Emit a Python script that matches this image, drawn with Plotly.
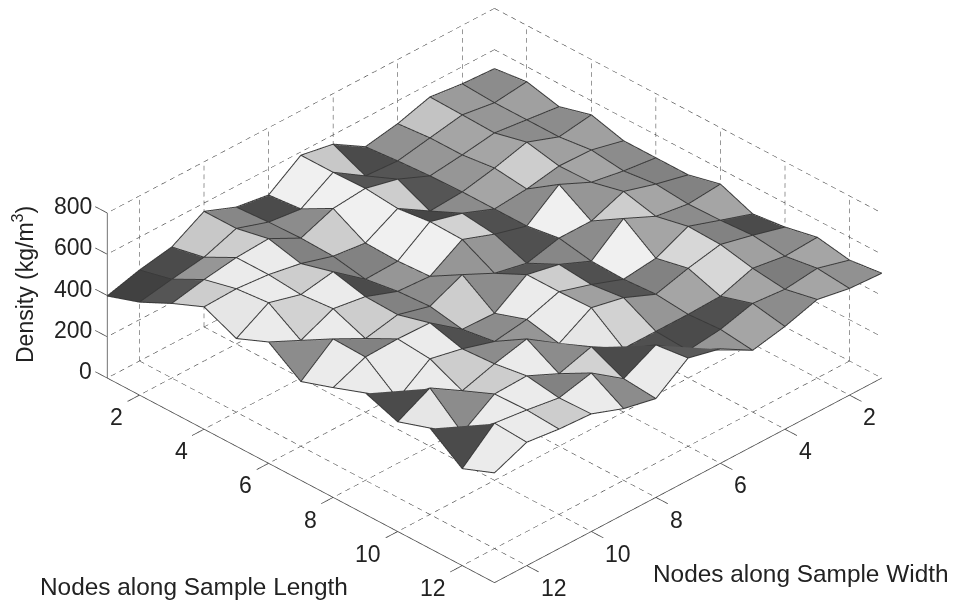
import plotly.graph_objects as go

# Node densities: rows = Length node 1..13, columns = Width node 1..13
density = [
 [505,514,533,486,457,552,581,471,495,557,467,438,395],
 [524,505,529,500,471,481,581,486,505,557,500,476,448],
 [486,505,524,500,481,548,586,571,510,590,581,557,524],
 [529,505,562,519,486,476,571,486,505,552,581,595,590],
 [486,524,529,500,486,548,590,481,476,595,567,610,519],
 [486,505,533,605,486,529,586,490,500,557,581,510,585],
 [486,524,571,510,510,471,505,581,510,552,519,600,476],
 [524,510,533,605,481,548,581,476,481,595,600,595,529],
 [462,514,567,495,476,533,581,529,505,552,586,476,586],
 [481,524,562,529,486,552,586,495,600,562,514,610,529],
 [514,505,529,476,471,471,471,562,514,586,581,476,581],
 [486,529,510,524,481,462,571,490,600,562,586,605,467],
 [505,514,543,495,462,552,590,476,510,567,576,595,529],
]
# Facet grey level per cell
shade = [
 [140,155,195,145, 75,200,240, 75,135,200, 75, 65],
 [160,150,165,150, 85, 85,240,140,130,205,150, 85],
 [140,140,165,150, 85,205,240,205,130,235,235,205],
 [160,160,205,165,140, 70,240,130,130,205,235,230],
 [140,165,150,140, 80,210,240,150, 75,235,210,235],
 [130,140,150,240, 80,150,150,140,130,205,235,140],
 [130,165,205,140,135, 85,140,205,130,205,130,235],
 [165,140,165,240, 80,205,235,140, 80,235,235,235],
 [ 75,130,215,130, 85,160,235,150,140,205,235, 75],
 [140,160,215,165,150,210,230,140,235,205,140,230],
 [165,125,165, 80, 75, 80, 75,210,130,235,235, 75],
 [145,165,140,165,150, 90,235,140,235,205,235,235],
]
nodes = list(range(1, 14))
node_ticks = [2, 4, 6, 8, 10, 12]
density_ticks = [0, 200, 400, 600, 800]

n = len(nodes)
lo, hi = nodes[0], nodes[-1]
zmax = density_ticks[-1]
pad = 0.4
tick = 0.37
vx, vy, vz = [], [], []
for i, L in enumerate(nodes):
    for j, W in enumerate(nodes):
        vx.append(W); vy.append(L); vz.append(density[i][j])
idx = lambda i, j: i * n + j
fi, fj, fk, fc = [], [], [], []
for i in range(n - 1):
    for j in range(n - 1):
        g = shade[i][j]
        col = f"rgb({g},{g},{g})"
        fi += [idx(i, j), idx(i + 1, j + 1)]
        fj += [idx(i + 1, j), idx(i + 1, j)]
        fk += [idx(i, j + 1), idx(i, j + 1)]
        fc += [col, col]

fig = go.Figure()
fig.add_trace(go.Mesh3d(x=vx, y=vy, z=vz, i=fi, j=fj, k=fk, facecolor=fc, flatshading=True,
                        lighting=dict(ambient=1, diffuse=0, specular=0, roughness=1, fresnel=0),
                        hoverinfo="skip", showscale=False))

# mesh edges
ex, ey, ez = [], [], []
for i, L in enumerate(nodes):
    ex += nodes + [None]; ey += [L] * n + [None]; ez += [v + 3 for v in density[i]] + [None]
for j, W in enumerate(nodes):
    ex += [W] * n + [None]; ey += nodes + [None]; ez += [density[i][j] + 3 for i in range(n)] + [None]
fig.add_trace(go.Scatter3d(x=ex, y=ey, z=ez, mode="lines", line=dict(color="#3a3a3a", width=2),
                           hoverinfo="skip", showlegend=False))

# dashed grid on floor and back walls: each grid line is cut into short strokes
gx, gy, gz = [], [], []
def dashed(p0, p1, count):
    for s in range(count):
        a, b = s / count, (s + 0.55) / count
        gx.extend([p0[0] + (p1[0] - p0[0]) * a, p0[0] + (p1[0] - p0[0]) * b, None])
        gy.extend([p0[1] + (p1[1] - p0[1]) * a, p0[1] + (p1[1] - p0[1]) * b, None])
        gz.extend([p0[2] + (p1[2] - p0[2]) * a, p0[2] + (p1[2] - p0[2]) * b, None])
along = 46
up = 19
for t in node_ticks:
    dashed((lo, t, 0), (hi, t, 0), along)
    dashed((t, lo, 0), (t, hi, 0), along)
    dashed((t, lo, 0), (t, lo, zmax), up)
    dashed((lo, t, 0), (lo, t, zmax), up)
for t in density_ticks:
    dashed((lo, lo, t), (lo, hi, t), along)
    dashed((lo, lo, t), (hi, lo, t), along)
fig.add_trace(go.Scatter3d(x=gx, y=gy, z=gz, mode="lines", line=dict(color="#303030", width=1),
                           hoverinfo="skip", showlegend=False))

# solid axes and tick marks
ax, ay, az = [hi, hi, None, hi, hi, None, lo, hi, None], [lo, lo, None, lo, hi, None, hi, hi, None], [0, zmax, None, 0, 0, None, 0, 0, None]
for t in node_ticks:
    ax += [hi, hi + tick, None, t, t, None]
    ay += [t, t, None, hi, hi + tick, None]
    az += [0, 0, None, 0, 0, None]
for t in density_ticks:
    ax += [hi, hi, None]
    ay += [lo, lo - tick, None]
    az += [t, t, None]
fig.add_trace(go.Scatter3d(x=ax, y=ay, z=az, mode="lines", line=dict(color="#444444", width=1.5),
                           hoverinfo="skip", showlegend=False))

hidden = dict(visible=False)
tf = dict(family="Liberation Sans", size=23, color="#222222")
notes = []
for t in node_ticks:
    notes.append(dict(x=hi, y=t, z=0, text=str(t), showarrow=False, xanchor="right", xshift=-14, yshift=-22, font=tf))
    notes.append(dict(x=t, y=hi, z=0, text=str(t), showarrow=False, xanchor="left", xshift=12, yshift=-22, font=tf))
for t in density_ticks:
    notes.append(dict(x=hi, y=lo, z=t, text=str(t), showarrow=False, xanchor="right", xshift=-13, yshift=7, font=tf))

font = dict(family="Liberation Sans", size=24.4, color="#222222")
fig.update_layout(
    width=958, height=602, margin=dict(l=0, r=0, t=0, b=0), paper_bgcolor="white", showlegend=False,
    scene=dict(
        domain=dict(x=[0.032, 1], y=[0.018, 1]),
        xaxis=dict(hidden, range=[lo - pad, hi + pad]),
        yaxis=dict(hidden, range=[lo - pad, hi + pad]),
        zaxis=dict(hidden, range=[0, zmax]),
        aspectmode="manual", aspectratio=dict(x=1.977, y=1.977, z=0.658),
        camera=dict(projection=dict(type="orthographic"), eye=dict(x=1.25, y=1.25, z=1.1),
                    up=dict(x=0, y=0, z=1), center=dict(x=0, y=0, z=0)),
        annotations=notes,
    ),
    annotations=[
        dict(text="Nodes along Sample Length", x=38/958, y=1-586/602, xref="paper", yref="paper", showarrow=False, xanchor="left", yanchor="middle", font=font),
        dict(text="Nodes along Sample Width", x=651/958, y=1-573/602, xref="paper", yref="paper", showarrow=False, xanchor="left", yanchor="middle", font=font),
        dict(text="Density (kg/m<sup>3</sup>)", x=23/958, y=1-285/602, xref="paper", yref="paper", showarrow=False, textangle=-90, xanchor="center", yanchor="middle", font=dict(font, size=23)),
    ],
)
fig.write_html("out.html", post_script="document.body.style.margin='0';", config={"displayModeBar": False})
